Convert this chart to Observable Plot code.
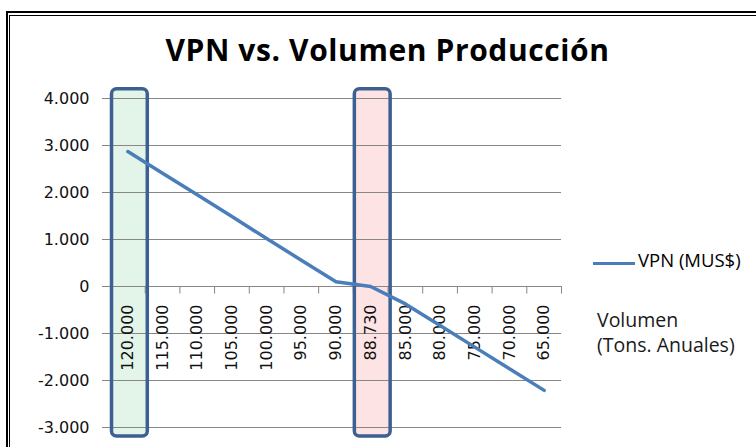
<!DOCTYPE html>
<html>
<head>
<meta charset="utf-8">
<script src="https://cdn.jsdelivr.net/npm/d3@7"></script>
<script src="https://cdn.jsdelivr.net/npm/@observablehq/plot@0.6"></script>
<style>
  html, body { margin: 0; padding: 0; background: #fff; }
  #wrap { position: relative; width: 756px; height: 447px; overflow: hidden; background: #fff; }
  .outer { position: absolute; left: 6px; top: 11px; width: 900px; height: 600px; border: 2px solid #000; }
  .inner { position: absolute; left: 9px; top: 15px; width: 900px; height: 600px; border: 1px solid #000; }
  #title { position: absolute; left: 0; top: 35px; width: 775px; text-align: center; letter-spacing: 0.6px;
           font-family: "Open Sans", Lato, sans-serif; font-weight: bold; font-size: 30px; line-height: 30px; color: #000; }
  #chart { position: absolute; left: 0; top: 0; }
  #chart svg { overflow: visible; }
  .legline { position: absolute; left: 593px; top: 261.5px; width: 42px; height: 3px; background: #4a7ebb; }
  .legtext { position: absolute; left: 638px; top: 251px; font-family: "Open Sans", Lato, sans-serif; font-size: 18.5px; line-height: 18px; color: #000; white-space: nowrap; }
  .xtitle { position: absolute; left: 597px; top: 307px; font-family: "Open Sans", Lato, sans-serif; font-size: 19.5px; line-height: 25px; color: #1a1a1a; white-space: nowrap; }
</style>
</head>
<body>
<div id="wrap">
  <div class="outer"></div>
  <div class="inner"></div>
  <div id="chart"></div>
  <div id="title">VPN vs. Volumen Producción</div>
  <div class="legline"></div>
  <div class="legtext">VPN (MUS$)</div>
  <div class="xtitle">Volumen<br>(Tons. Anuales)</div>
</div>
<script>
// Category labels (production volume, tons/year)
const categories = ["120.000","115.000","110.000","105.000","100.000","95.000","90.000","88.730","85.000","80.000","75.000","70.000","65.000"];
// VPN (MUS$) series
const vpn = [2870, 2410, 1950, 1490, 1020, 560, 100, 0, -370, -830, -1290, -1750, -2210];
// Y tick values
const yTicks = [-3000, -2000, -1000, 0, 1000, 2000, 3000, 4000];
// Highlighted categories
const highlightCats = ["120.000", "88.730"];
const highlightFills = ["#e3f4e8", "#fde3e4"];

const rows = categories.map((c, i) => ({i, cat: c, v: vpn[i]}));
const highlights = highlightCats.map((c, k) => ({i: categories.indexOf(c), fill: highlightFills[k]}));
const boundaries = categories.map((c, i) => i + 0.5);
const fmt = d => d3.format(",")(d).replace(/,/g, ".").replace("\u2212", "-");
const yMin = d3.min(yTicks), yMax = d3.max(yTicks);

const grid = "#878787";
const boxStroke = "#3b6091";

const chart = Plot.plot({
  width: 756,
  height: 447,
  marginLeft: 110,
  marginRight: 195,
  marginTop: 98,
  marginBottom: 20,
  style: {fontFamily: "'DejaVu Sans', sans-serif", fontSize: "16px", background: "transparent", overflow: "visible"},
  x: {type: "linear", domain: [-0.5, categories.length - 0.5], axis: null},
  y: {domain: [yMin, yMax], axis: null},
  marks: [
    // highlight fills
    Plot.rect(highlights, {x1: d => d.i - 0.5, x2: d => d.i + 0.5, y1: yMin, y2: yMax,
      fill: d => d.fill, insetLeft: 1.5, insetRight: -2.6, insetTop: -9.3, insetBottom: -9}),
    // gridlines
    Plot.ruleY(yTicks, {stroke: grid, strokeWidth: 1}),
    // y axis
    Plot.axisY(yTicks, {tickSize: 8, tickPadding: 13, stroke: grid, fill: "#111", tickFormat: fmt, fontSize: 16, label: null}),
    // category ticks on the zero axis
    Plot.ruleX(boundaries, {x: d => d, y1: 0, y2: -160, stroke: grid, strokeWidth: 1}),
    // category labels
    Plot.text(rows, {x: "i", y: 0, text: "cat", rotate: -90, textAnchor: "end", dy: 18, fontSize: 16, fill: "#111"}),
    // highlight borders
    Plot.rect(highlights, {x1: d => d.i - 0.5, x2: d => d.i + 0.5, y1: yMin, y2: yMax,
      fill: "none", stroke: boxStroke, strokeWidth: 3.5, rx: 5,
      insetLeft: 1.5, insetRight: -2.6, insetTop: -9.3, insetBottom: -9}),
    // VPN line
    Plot.line(rows, {x: "i", y: "v", stroke: "#4a7ebb", strokeWidth: 3.5, strokeLinejoin: "round"})
  ]
});
document.getElementById("chart").appendChild(chart);
</script>
</body>
</html>
